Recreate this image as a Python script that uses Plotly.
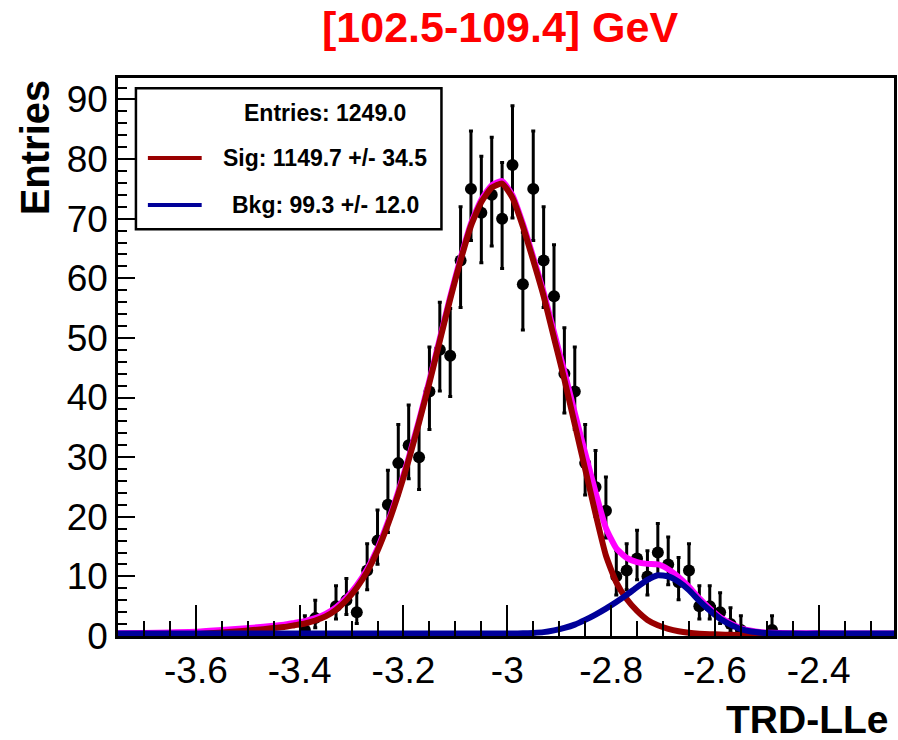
import math
import plotly.graph_objects as go

# ---------------- data ----------------
bin_centers = [-3.39, -3.37, -3.35, -3.33, -3.31, -3.29, -3.27, -3.25, -3.23, -3.21,
               -3.19, -3.17, -3.15, -3.13, -3.11, -3.09, -3.07, -3.05, -3.03, -3.01,
               -2.99, -2.97, -2.95, -2.93, -2.91, -2.89, -2.87, -2.85, -2.83, -2.81,
               -2.79, -2.77, -2.75, -2.73, -2.71, -2.69, -2.67, -2.65, -2.63, -2.61,
               -2.59, -2.57, -2.55, -2.53, -2.51, -2.49]
counts = [1, 3, 0, 5, 6, 4, 11, 16, 22, 29,
          32, 30, 41, 48, 47, 63, 75, 71, 74, 70,
          79, 59, 75, 63, 57, 44, 41, 29, 25, 21,
          10, 11, 13, 10, 14, 12, 9, 11, 5, 5,
          4, 2, 1, 0, 0, 1]

curve_x = [-3.75, -3.70, -3.65, -3.60, -3.55, -3.51, -3.47, -3.43, -3.41, -3.39,
           -3.37, -3.35, -3.33, -3.31, -3.29, -3.27, -3.25, -3.23, -3.21, -3.19,
           -3.17, -3.15, -3.13, -3.11, -3.09, -3.07, -3.05, -3.03, -3.01, -2.99,
           -2.97, -2.95, -2.93, -2.91, -2.89, -2.87, -2.85, -2.83, -2.81, -2.79,
           -2.77, -2.75, -2.73, -2.71, -2.69, -2.67, -2.65, -2.63, -2.61, -2.59,
           -2.57, -2.55, -2.53, -2.51, -2.49, -2.45, -2.40, -2.30, -2.255]
sig_curve = [0.05, 0.1, 0.2, 0.3, 0.6, 0.85, 1.15, 1.5, 1.8, 2.1,
             2.6, 3.3, 4.4, 6.0, 8.1, 10.8, 14.3, 18.7, 23.8, 29.5,
             35.8, 42.5, 49.5, 56.5, 63.0, 68.8, 72.8, 75.2, 75.9, 73.5,
             68.7, 63.0, 57.0, 50.0, 43.0, 35.5, 28.0, 20.5, 13.5, 9.0,
             6.2, 4.2, 2.7, 1.8, 1.2, 0.8, 0.55, 0.4, 0.3, 0.25,
             0.2, 0.15, 0.12, 0.1, 0.08, 0.06, 0.05, 0.03, 0.02]
bkg_curve = [0.4, 0.4, 0.4, 0.4, 0.4, 0.4, 0.4, 0.4, 0.4, 0.4,
             0.4, 0.4, 0.4, 0.4, 0.4, 0.4, 0.4, 0.4, 0.4, 0.4,
             0.4, 0.4, 0.4, 0.4, 0.4, 0.4, 0.4, 0.4, 0.4, 0.42,
             0.45, 0.52, 0.65, 0.95, 1.35, 1.9, 2.7, 3.6, 4.6, 5.7,
             6.9, 8.2, 9.4, 10.2, 10.0, 9.1, 7.7, 5.9, 4.3, 2.9,
             1.9, 1.15, 0.75, 0.55, 0.45, 0.4, 0.4, 0.4, 0.4]

x_tickvals = [-3.6, -3.4, -3.2, -3.0, -2.8, -2.6, -2.4]
x_ticktext = ["-3.6", "-3.4", "-3.2", "-3", "-2.8", "-2.6", "-2.4"]
y_tickvals = [0, 10, 20, 30, 40, 50, 60, 70, 80, 90]
y_ticktext = ["0", "10", "20", "30", "40", "50", "60", "70", "80", "90"]

title_text = "[102.5-109.4] GeV"
x_title = "TRD-LLe"
y_title = "Entries"
sig_yield, sig_err = 1149.7, 34.5
bkg_yield, bkg_err = 99.3, 12.0

# ---------------- derived ----------------
tot_curve = [s + b for s, b in zip(sig_curve, bkg_curve)]

px_pts, py_pts, e_up, e_lo = [], [], [], []
for c, n in zip(bin_centers, counts):
    if n <= 0:
        continue
    px_pts.append(c)
    py_pts.append(n)
    e_up.append(math.sqrt(n + 1.0) + 1.0)              # Gehrels upper (Poisson)
    e_lo.append(n - n * (1 - 1 / (9 * n) - 1 / (3 * math.sqrt(n))) ** 3)

entries = float(sum(counts))

# ---------------- geometry ----------------
W, H = 898, 740
L, R, T, B = 118, 1, 78, 104
PW, PH = W - L - R, H - T - B


def pxx(x):
    return (x - L) / PW


def pyy(y):
    return (H - B - y) / PH


FONT = "Liberation Sans"
DARKRED = "rgb(153,0,0)"
DARKBLUE = "rgb(0,0,153)"
MAGENTA = "rgb(255,0,255)"

fig = go.Figure()

fig.add_trace(go.Scatter(
    x=px_pts, y=py_pts, mode="markers",
    marker=dict(color="black", size=12),
    error_y=dict(type="data", symmetric=False, array=e_up, arrayminus=e_lo,
                 color="black", thickness=3, width=2),
    hoverinfo="skip"))

fig.add_trace(go.Scatter(x=curve_x, y=tot_curve, mode="lines",
                         line=dict(color=MAGENTA, width=6, shape="spline", smoothing=0.5)))
fig.add_trace(go.Scatter(x=curve_x, y=sig_curve, mode="lines",
                         line=dict(color=DARKRED, width=6, shape="spline", smoothing=0.5)))
fig.add_trace(go.Scatter(x=curve_x, y=bkg_curve, mode="lines",
                         line=dict(color=DARKBLUE, width=6, shape="spline", smoothing=0.5)))

axis_common = dict(showline=True, linecolor="black", linewidth=2.5, mirror=True,
                   showgrid=False, zeroline=False, ticks="inside", tickcolor="black",
                   tickwidth=1.5, tickmode="array",
                   tickfont=dict(family=FONT, size=37, color="black"))

fig.update_xaxes(range=[-3.75, -2.255], tickvals=x_tickvals, ticktext=x_ticktext,
                 ticklen=31,
                 minor=dict(tickmode="linear", tick0=-3.6, dtick=0.05, ticks="inside",
                            ticklen=15, tickcolor="black", tickwidth=1.5),
                 **axis_common)
fig.update_yaxes(range=[0, 93.6], tickvals=y_tickvals, ticktext=y_ticktext,
                 ticklen=17,
                 minor=dict(tickmode="linear", tick0=0, dtick=2, ticks="inside",
                            ticklen=9, tickcolor="black", tickwidth=1.5),
                 **axis_common)

shapes = [
    dict(type="rect", xref="paper", yref="paper",
         x0=pxx(136), x1=pxx(442.7), y0=pyy(229.3), y1=pyy(88.3),
         line=dict(color="black", width=2.5), fillcolor="white", layer="above"),
    dict(type="line", xref="paper", yref="paper",
         x0=pxx(148), x1=pxx(202), y0=pyy(158), y1=pyy(158),
         line=dict(color=DARKRED, width=4), layer="above"),
    dict(type="line", xref="paper", yref="paper",
         x0=pxx(148), x1=pxx(202), y0=pyy(205), y1=pyy(205),
         line=dict(color=DARKBLUE, width=4), layer="above"),
]

leg_font = dict(family=FONT, size=23, color="black")
annotations = [
    dict(text="<b>%s</b>" % title_text, x=pxx(501), y=pyy(27), xref="paper", yref="paper",
         showarrow=False, xanchor="center", yanchor="middle",
         font=dict(family=FONT, size=43, color="rgb(255,0,0)")),
    dict(text="<b>%s</b>" % x_title, x=pxx(893), y=pyy(719), xref="paper", yref="paper",
         showarrow=False, xanchor="right", yanchor="middle",
         font=dict(family=FONT, size=39, color="black")),
    dict(text="<b>%s</b>" % y_title, x=pxx(35), y=pyy(147), xref="paper", yref="paper",
         showarrow=False, xanchor="center", yanchor="middle", textangle=-90,
         font=dict(family=FONT, size=40, color="black")),
    dict(text="<b>Entries: %.1f</b>" % entries, x=pxx(326), y=pyy(113),
         xref="paper", yref="paper", showarrow=False, xanchor="center",
         yanchor="middle", font=leg_font),
    dict(text="<b>Sig: %.1f +/- %.1f</b>" % (sig_yield, sig_err), x=pxx(326), y=pyy(158),
         xref="paper", yref="paper", showarrow=False, xanchor="center",
         yanchor="middle", font=leg_font),
    dict(text="<b>Bkg: %.1f +/- %.1f</b>" % (bkg_yield, bkg_err), x=pxx(326), y=pyy(205),
         xref="paper", yref="paper", showarrow=False, xanchor="center",
         yanchor="middle", font=leg_font),
]

fig.update_layout(width=W, height=H, margin=dict(l=L, r=R, t=T, b=B, pad=0),
                  paper_bgcolor="white", plot_bgcolor="white", showlegend=False,
                  shapes=shapes, annotations=annotations,
                  font=dict(family=FONT, color="black"))

fig.write_html("out.html")
